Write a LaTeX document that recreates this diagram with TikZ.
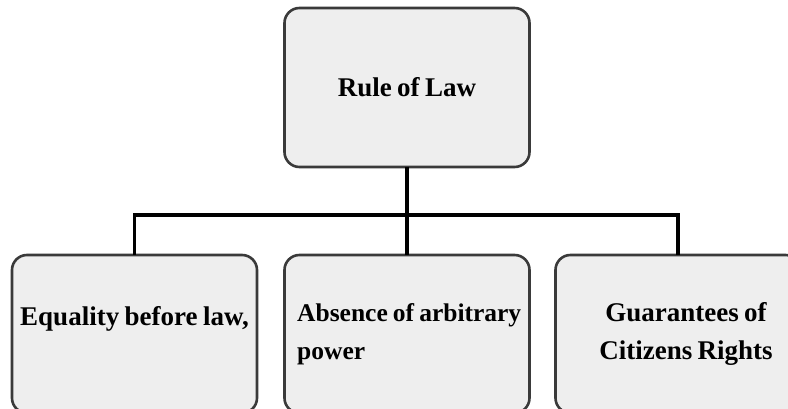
\documentclass[tikz,border=0pt]{standalone}
\usepackage{fontspec}
\setmainfont{Liberation Serif}
\definecolor{boxfill}{HTML}{EEEEEE}
\definecolor{boxline}{HTML}{3A3A3A}
\newcommand{\lblfont}{\fontsize{27}{38}\selectfont\bfseries\spaceskip=0.2em\relax}
\newcommand{\lblfontnarrow}{\fontsize{25.5}{38}\selectfont\bfseries\spaceskip=0.2em\relax}
\begin{document}
\begin{tikzpicture}[x=1pt,y=-1pt,
  box/.style={draw=boxline,line width=2.6pt,fill=boxfill,rounded corners=15pt,
    minimum width=245pt,minimum height=158pt,inner sep=0pt,outer sep=0pt},
  lbl/.style={font=\lblfont,inner sep=0pt},
  wire/.style={line width=3.8pt,black}]
\useasboundingbox (0,0) rectangle (788,409);
\clip (0,0) rectangle (788,409);
\node[box,minimum height=159pt] (top) at (407,87.5) {};
\node[box] (b1) at (134.5,334) {};
\node[box] (b2) at (407,334) {};
\node[box] (b3) at (678,334) {};
\node[lbl] (ttop) at (top.center) {Rule of Law};
\node[lbl] (t1) at ([yshift=15pt]b1.center) {Equality before law,};
\node[lbl,font=\lblfontnarrow,align=left,anchor=west] (t2) at ([xshift=-110pt]b2.center) {Absence of arbitrary\\power};
\node[lbl,align=center] (t3) at ([xshift=8pt]b3.center) {Guarantees of\\Citizens Rights};
\coordinate (bus) at (407,215);
\draw[wire] (top.south) -- (bus);
\draw[wire] (b1.north) |- (bus) -| (b3.north);
\draw[wire] (bus) -- (b2.north);
\end{tikzpicture}
\end{document}
